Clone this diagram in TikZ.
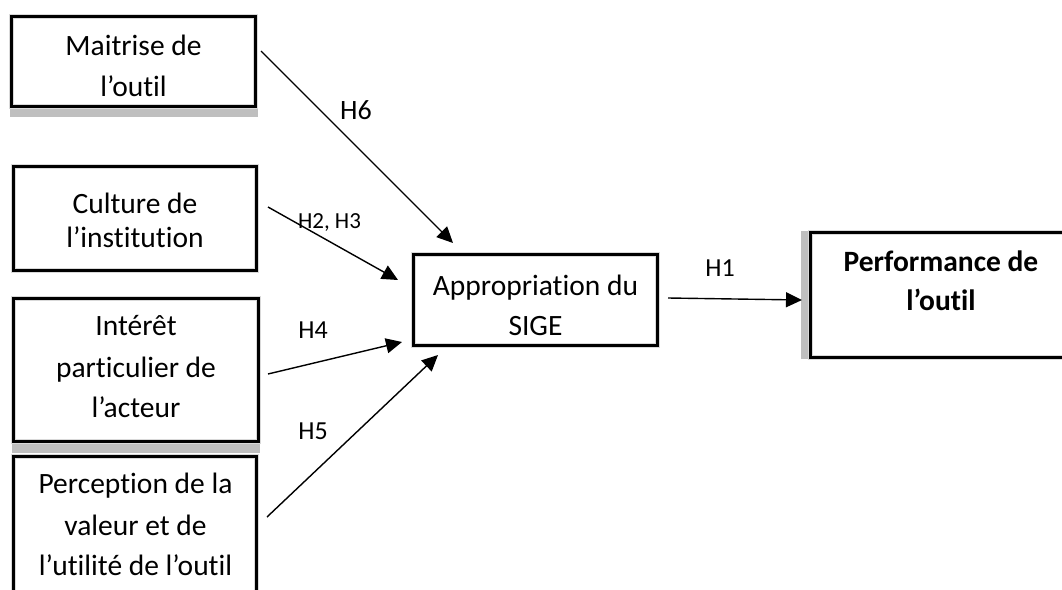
\documentclass[tikz,border=0pt]{standalone}
\usepackage{fontspec}
\setmainfont{Carlito}[RawFeature={-liga;-clig;-dlig}]
\usetikzlibrary{arrows.meta}
\definecolor{shadowgray}{HTML}{BFBFBF}
\tikzset{
  box/.style={draw=black, line width=3pt, preaction={draw=gray!30, line width=5pt}, inner sep=0pt, outer sep=0pt},
  txt/.style={anchor=base, inner sep=0pt, font=\fontsize{29.5}{36}\selectfont},
  btxt/.style={txt, font=\fontsize{29.5}{36}\selectfont\bfseries},
  hlab/.style={anchor=base, inner sep=0pt},
  conn/.style={line width=1.4pt, -{Triangle[length=16pt,width=15pt]}},
}
\begin{document}
\begin{tikzpicture}[x=1pt,y=-1pt]
\useasboundingbox (0,0) rectangle (1062,589);
\clip (0,0) rectangle (1062,589);

% shadow bars
\fill[shadowgray] (10,108) rectangle (258,117);
\fill[shadowgray] (12,444) rectangle (260,453);
\fill[shadowgray] (801,231) rectangle (809,359);

% boxes
\node[box, minimum width=244pt, minimum height=90pt] (maitrise) at (133.5,61.5) {};
\node[box, minimum width=243pt, minimum height=104pt] (culture) at (135,218.5) {};
\node[box, minimum width=245pt, minimum height=143pt] (interet) at (136,370) {};
\node[box, minimum width=243pt, minimum height=160pt] (perception) at (135,536.5) {};
\node[box, minimum width=244pt, minimum height=91pt] (approp) at (535.5,300) {};
\node[box, minimum width=280pt, minimum height=125pt] (perf) at (950.5,295) {};

% texts
\node[txt] (t1a) at (133.5,55) {Maitrise de};
\node[txt] (t1b) at (133.5,96) {l’outil};
\node[txt] (t2a) at (135,213) {Culture de};
\node[txt] (t2b) at (135,247) {l’institution};
\node[txt] (t3a) at (136,335) {Intérêt};
\node[txt] (t3b) at (136,377) {particulier de};
\node[txt] (t3c) at (136,417) {l’acteur};
\node[txt] (t4a) at (135.5,493) {Perception de la};
\node[txt] (t4b) at (135.5,535) {valeur et de};
\node[txt] (t4c) at (135.5,575) {l’utilité de l’outil};
\node[txt] (tAa) at (535.5,295) {Appropriation du};
\node[txt] (tAb) at (535.5,335) {SIGE};
\node[btxt] (tPa) at (941,271) {Performance de};
\node[btxt] (tPb) at (941,310) {l’outil};

% connector end points
\coordinate (s6) at (261,51);   \coordinate (e6) at (453,243);
\coordinate (s23) at (268,207); \coordinate (e23) at (398,280);
\coordinate (s4) at (268,374);  \coordinate (e4) at (402,342);
\coordinate (s5) at (267,517);  \coordinate (e5) at (438,355);
\coordinate (s1) at (668,298);  \coordinate (e1) at (802,300);

\draw[conn] (s6) -- (e6);
\draw[conn] (s23) -- (e23);
\draw[conn] (s4) -- (e4);
\draw[conn] (s5) -- (e5);
\draw[conn] (s1) -- (e1);

% labels
\node[hlab, font=\fontsize{28}{32}\selectfont] (h6) at (356,119) {H6};
\node[hlab, font=\fontsize{23}{27}\selectfont] (h23) at (329.5,228) {H2, H3};
\node[hlab, font=\fontsize{26}{30}\selectfont] (h4) at (313,338) {H4};
\node[hlab, font=\fontsize{26}{30}\selectfont] (h5) at (313,439) {H5};
\node[hlab, font=\fontsize{26}{30}\selectfont] (h1) at (720,276) {H1};
\end{tikzpicture}
\end{document}
